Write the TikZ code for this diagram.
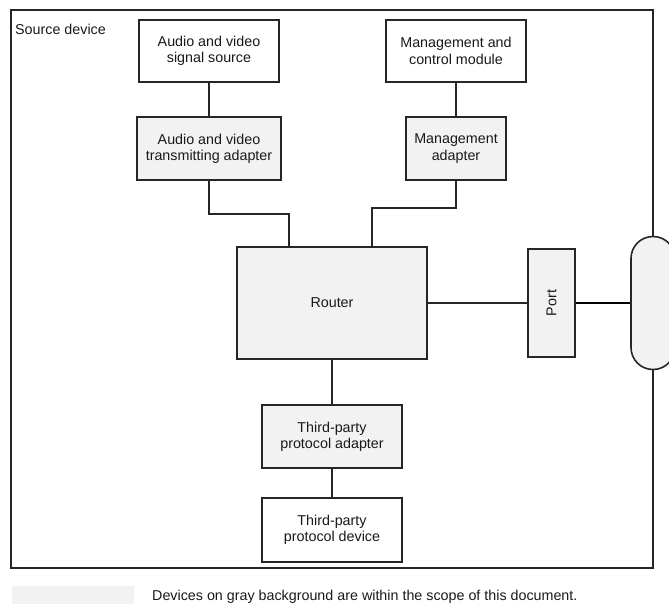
\documentclass[tikz,border=0pt]{standalone}
\usepackage{fontspec}
\setmainfont{Liberation Sans}
\begin{document}
\begin{tikzpicture}[x=1pt, y=-1pt,
  font=\fontsize{14.3}{16.4}\selectfont,
  every node/.style={text=black!90},
  box/.style={draw=black!85, line width=1.6pt, fill=white, align=center, inner sep=0pt},
  graybox/.style={box, fill=black!5},
  link/.style={draw=black!85, line width=1.6pt}
]
\useasboundingbox (0,0) rectangle (669,603);

% external connector at the right edge of the device
\node[graybox, minimum width=44pt, minimum height=133pt, rounded corners=21.9pt] (cap) at (653,303) {};

% device frame, broken by the connector
\draw[link] (cap.north) -- (653,10) -- (11,10) -- (11,568) -- (653,568) -- (cap.south);
\node[anchor=base west, inner sep=0pt] (title) at (15,34) {Source device};

% functional blocks
\node[box, minimum width=140pt, minimum height=62pt] (avs) at (209,51) {Audio and video\\signal source};
\node[graybox, minimum width=144pt, minimum height=63pt] (ava) at (209,148.5) {Audio and video\\transmitting adapter};
\node[box, minimum width=140pt, minimum height=62pt] (mcm) at (456,51) {Management and\\control module};
\node[graybox, minimum width=100pt, minimum height=63pt] (mga) at (456,148.5) {Management\\adapter};
\node[graybox, line width=2.2pt, minimum width=190pt, minimum height=112pt] (router) at (332,303) {Router};
\node[graybox, minimum width=47pt, minimum height=108pt] (port) at (551.5,303) {\rotatebox{90}{Port}};
\node[graybox, minimum width=140pt, minimum height=63pt] (tpa) at (332,436.5) {Third-party\\protocol adapter};
\node[box, minimum width=140pt, minimum height=64pt] (tpd) at (332,530) {Third-party\\protocol device};

% connections
\draw[link] (avs.south) -- (ava.north);
\draw[link] (mcm.south) -- (mga.north);
\draw[link] (ava.south) -- ++(0,33) -| ([xshift=53pt]router.north west);
\draw[link] (mga.south) -- ++(0,27) -| ([xshift=-56pt]router.north east);
\draw[link] (router.east) -- (port.west);
\draw[link, line width=2.3pt, draw=black] (port.east) -- (cap.west);
\draw[link] (router.south) -- (tpa.north);
\draw[link] (tpa.south) -- (tpd.north);

% legend
\fill[black!5] (12,586) rectangle (134,610);
\node[anchor=base west, inner sep=0pt] (legend) at (152,600) {Devices on gray background are within the scope of this document.};
\end{tikzpicture}
\end{document}
